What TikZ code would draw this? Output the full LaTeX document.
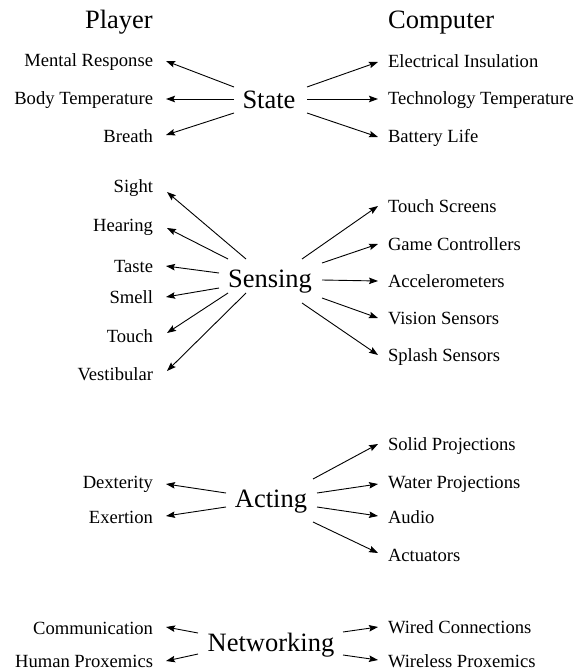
\documentclass[tikz,border=0pt]{standalone}
\usepackage{fontspec}
\setmainfont{Liberation Serif}
\usetikzlibrary{arrows.meta}
\begin{document}
\begin{tikzpicture}[x=1pt,y=-1pt,
  lbl/.style={font=\fontsize{18.6}{22}\selectfont, inner sep=0pt, outer sep=0pt},
  lft/.style={lbl, anchor=base east},
  rgt/.style={lbl, anchor=base west},
  hub/.style={font=\fontsize{26.5}{32}\selectfont, inner sep=0pt, anchor=base},
  hd/.style={font=\fontsize{26.5}{32}\selectfont, inner sep=0pt},
  arr/.style={-{Stealth[length=9pt,width=6.5pt,inset=1.5pt]}, line width=0.9pt},
  ltip/.style={shift={(13,-6)}},
  rtip/.style={shift={(-10,-6)}},
]
\useasboundingbox (0,0) rectangle (584,671);

% headings
\node[hd, anchor=base east] (player) at (153,29) {Player};
\node[hd, anchor=base west] (computer) at (388,29) {Computer};

% ---------- State ----------
\node[hub] (state) at (269,109) {State};
\node[lft] (mr) at (153,67) {Mental Response};
\node[lft] (bt) at (153,105) {Body Temperature};
\node[lft] (br) at (153,143) {Breath};
\node[rgt] (ei) at (388,68) {Electrical Insulation};
\node[rgt] (tt) at (388,105) {Technology Temperature};
\node[rgt] (bl) at (388,143) {Battery Life};
\draw[arr] ([shift={(-35,-22)}]state.base) -- ([ltip]mr.base east);
\draw[arr] ([shift={(-35,-10)}]state.base) -- ([ltip]bt.base east);
\draw[arr] ([shift={(-35,4)}]state.base) -- ([shift={(13,-8)}]br.base east);
\draw[arr] ([shift={(38,-22)}]state.base) -- ([rtip]ei.base west);
\draw[arr] ([shift={(38,-10)}]state.base) -- ([rtip]tt.base west);
\draw[arr] ([shift={(38,4)}]state.base) -- ([rtip]bl.base west);

% ---------- Sensing ----------
\node[hub] (sensing) at (270,287) {Sensing};
\node[lft] (sight) at (153,193) {Sight};
\node[lft] (hearing) at (153,231) {Hearing};
\node[lft] (taste) at (153,272) {Taste};
\node[lft] (smell) at (153,303) {Smell};
\node[lft] (touch) at (153,342) {Touch};
\node[lft] (vest) at (153,380) {Vestibular};
\node[rgt] (ts) at (388,212) {Touch Screens};
\node[rgt] (gc) at (388,250) {Game Controllers};
\node[rgt] (acc) at (388,287) {Accelerometers};
\node[rgt] (vs) at (388,324) {Vision Sensors};
\node[rgt] (ss) at (388,361) {Splash Sensors};
\draw[arr] ([shift={(-24,-28)}]sensing.base) -- ([shift={(14,-1)}]sight.base east);
\draw[arr] ([shift={(-42,-28)}]sensing.base) -- ([shift={(14,-3)}]hearing.base east);
\draw[arr] ([shift={(-51,-14)}]sensing.base) -- ([ltip]taste.base east);
\draw[arr] ([shift={(-51,1)}]sensing.base) -- ([ltip]smell.base east);
\draw[arr] ([shift={(-42,6)}]sensing.base) -- ([shift={(14,-9)}]touch.base east);
\draw[arr] ([shift={(-24,6)}]sensing.base) -- ([shift={(14,-9)}]vest.base east);
\draw[arr] ([shift={(32,-28)}]sensing.base) -- ([rtip]ts.base west);
\draw[arr] ([shift={(52,-24)}]sensing.base) -- ([rtip]gc.base west);
\draw[arr] ([shift={(52,-7)}]sensing.base) -- ([rtip]acc.base west);
\draw[arr] ([shift={(52,11)}]sensing.base) -- ([rtip]vs.base west);
\draw[arr] ([shift={(32,16)}]sensing.base) -- ([rtip]ss.base west);

% ---------- Acting ----------
\node[hub] (acting) at (271,507) {Acting};
\node[lft] (dex) at (153,488) {Dexterity};
\node[lft] (exe) at (153,523) {Exertion};
\node[rgt] (sp) at (388,450) {Solid Projections};
\node[rgt] (wp) at (388,488) {Water Projections};
\node[rgt] (au) at (388,523) {Audio};
\node[rgt] (act) at (388,561) {Actuators};
\draw[arr] ([shift={(-45,-14)}]acting.base) -- ([shift={(13,-4)}]dex.base east);
\draw[arr] ([shift={(-45,0)}]acting.base) -- ([shift={(13,-7)}]exe.base east);
\draw[arr] ([shift={(42,-28)}]acting.base) -- ([rtip]sp.base west);
\draw[arr] ([shift={(46,-14)}]acting.base) -- ([shift={(-10,-4)}]wp.base west);
\draw[arr] ([shift={(46,0)}]acting.base) -- ([shift={(-10,-7)}]au.base west);
\draw[arr] ([shift={(42,15)}]acting.base) -- ([shift={(-10,-8)}]act.base west);

% ---------- Networking ----------
\node[hub] (net) at (271,651) {Networking};
\node[lft] (com) at (153,634) {Communication};
\node[lft] (hp) at (153,667) {Human Proxemics};
\node[rgt] (wc) at (388,633) {Wired Connections};
\node[rgt] (wl) at (388,667) {Wireless Proxemics};
\draw[arr] ([shift={(-73,-18)}]net.base) -- ([shift={(13,-7)}]com.base east);
\draw[arr] ([shift={(-73,3)}]net.base) -- ([shift={(13,-6)}]hp.base east);
\draw[arr] ([shift={(72,-19)}]net.base) -- ([shift={(-10,-6)}]wc.base west);
\draw[arr] ([shift={(72,4)}]net.base) -- ([shift={(-10,-7)}]wl.base west);
\end{tikzpicture}
\end{document}
